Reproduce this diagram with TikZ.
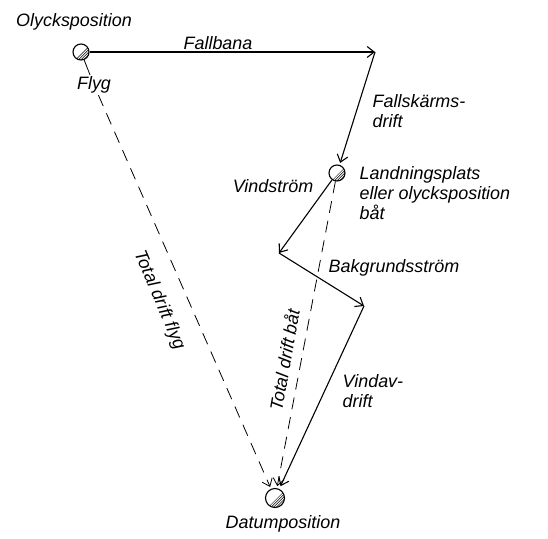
\documentclass[tikz,border=0pt]{standalone}
\usepackage{fontspec}
\setsansfont{Liberation Sans}
\usetikzlibrary{arrows.meta,positioning,calc}
\begin{document}
\begin{tikzpicture}[x=1bp,y=1bp,>={Straight Barb[length=7bp,width=11bp]},
 font=\sffamily\itshape\fontsize{18}{20}\selectfont,
 ball/.style={circle,draw,line width=1.1bp,minimum size=16bp,inner sep=0pt,
  path picture={\foreach \d in {1,...,5}
   \draw[line width=0.5bp] ([shift={(\d*1.3bp-10bp,-\d*1.3bp-10bp)}]path picture bounding box.center) -- ++(20bp,20bp);}},
 vec/.style={->,line width=1.1bp},
 tot/.style={->,line width=0.8bp,dash pattern=on 12bp off 8bp},
 lbl/.style={inner sep=1.5bp}]
\useasboundingbox (0,0) rectangle (548,-539);
% positions
\node[ball] (o1) at (81,-52) {};
\node[ball] (l) at (337,-173) {};
\node[ball,minimum size=19bp] (d) at (275,-498) {};
\coordinate (c1) at (375,-52);
\coordinate (w) at (279,-253);
\coordinate (b) at (364,-306);
% texts
\node[lbl] (ot) at (74,-22) {Olycksposition};
\node[lbl] (flyg) at (94,-85) {Flyg};
\node[lbl,anchor=west,align=left] (fd) at (371,-111) {Fallskärms-\\drift};
\node[lbl,anchor=west,align=left] (lt) at (358,-193) {Landningsplats\\eller olycksposition\\båt};
\node[lbl] (vs) at (273,-186) {Vindström};
\node[lbl,anchor=west] (bg) at (327,-268) {Bakgrundsström};
\node[lbl,anchor=west,align=left] (vd) at (341,-391) {Vindav-\\drift};
\node[lbl] (dt) at (283,-524) {Datumposition};
\node[lbl,rotate=-67] (tf) at (159,-300) {Total drift flyg};
\node[lbl,rotate=80] (tb) at (284,-360) {Total drift båt};
% drift vectors
\draw[vec] (o1) -- node[lbl,above,pos=0.45] (fb) {Fallbana} (c1);
\draw[vec,shorten >=2bp] (c1) -- (l);
\draw[vec] (l) -- (w);
\draw[vec] (w) -- (b);
\draw[vec,shorten >=3bp] (b) -- (d);
\draw[line width=0.8bp] (o1) -- (flyg);
\draw[tot,shorten >=2bp] (flyg) -- (d);
\draw[tot,shorten >=2bp] (l) -- (d);
\end{tikzpicture}
\end{document}
